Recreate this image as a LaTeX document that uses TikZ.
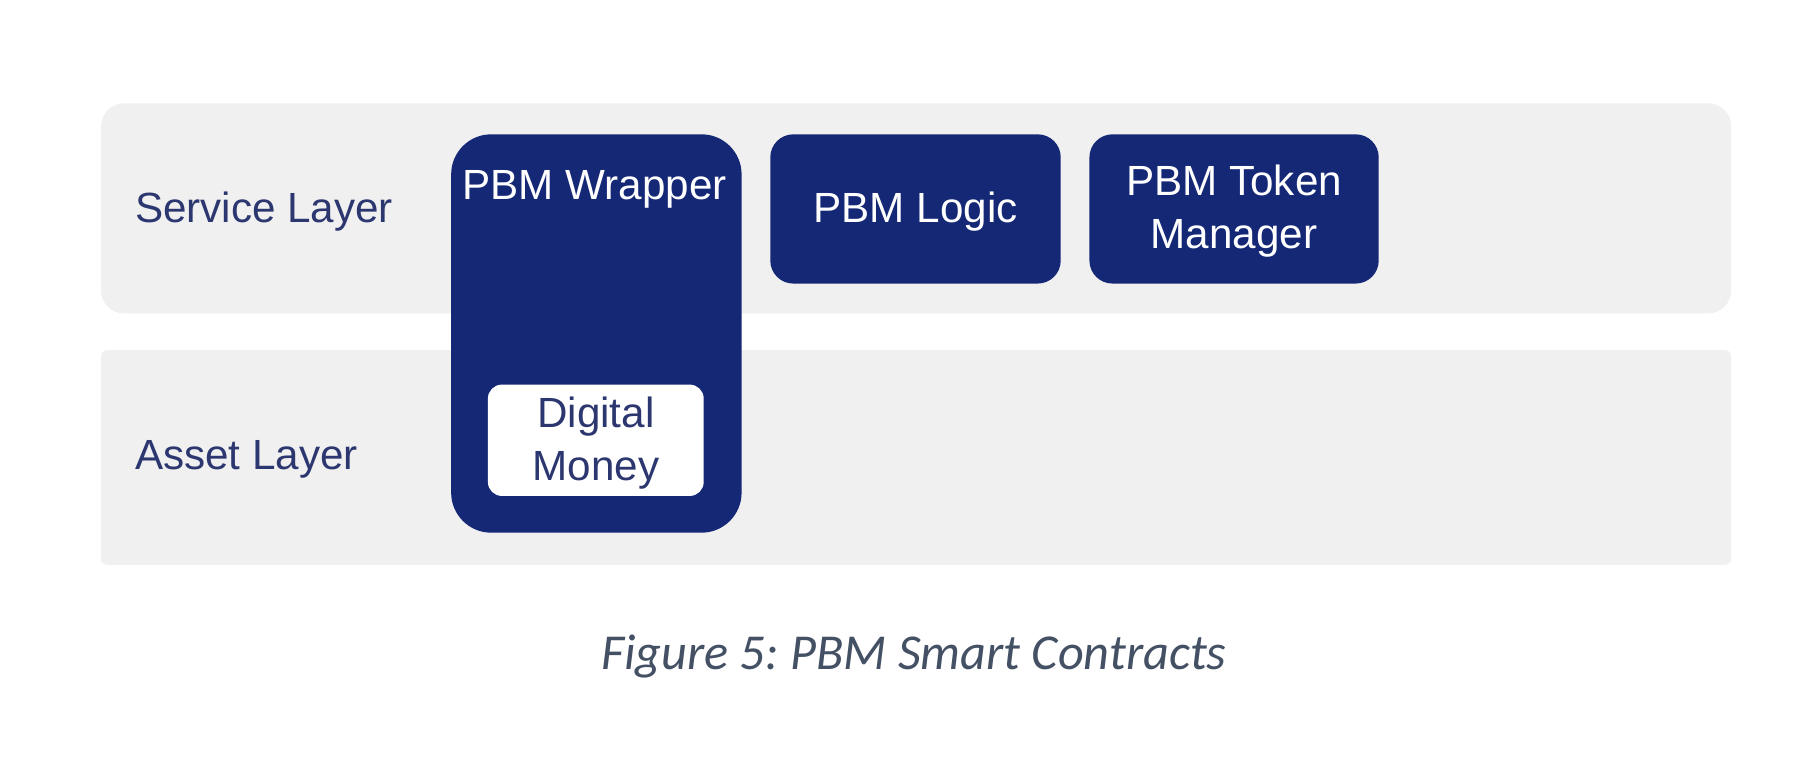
\documentclass[tikz,border=0pt]{standalone}
\usepackage{fontspec}
\setmainfont{Liberation Sans}
\newfontfamily\capfont{Carlito}
\definecolor{navy}{RGB}{21,40,118}
\definecolor{band}{RGB}{240,240,240}
\definecolor{lbl}{RGB}{44,55,112}
\definecolor{capc}{RGB}{68,80,100}
\def\u{0.01148cm}
\frenchspacing
\begin{document}
\begin{tikzpicture}[x=0.01148cm,y=-0.01148cm,
  bandbox/.style={fill=band,draw=none,inner sep=0pt},
  navybox/.style={fill=navy,draw=none,inner sep=0pt,rounded corners=0.23cm,text=white,align=center,font=\fontsize{12}{15}\selectfont},
  whitebox/.style={fill=white,draw=none,inner sep=0pt,rounded corners=0.14cm,text=lbl,align=center,font=\fontsize{12}{15}\selectfont},
  layerlbl/.style={text=lbl,anchor=west,inner sep=0pt,font=\fontsize{12}{15}\selectfont}]
\fill[white] (0,0) rectangle (1568,682);
\useasboundingbox (0,0) rectangle (1568,682);
\node[bandbox,rounded corners=0.23cm,minimum width=1420*\u,minimum height=183*\u] (service) at (798,181.5) {};
\node[bandbox,rounded corners=0.06cm,minimum width=1420*\u,minimum height=187*\u] (asset) at (798,398.5) {};
\node[layerlbl] (servicelbl) at (117,184) {Service Layer};
\node[layerlbl] (assetlbl) at (117,400) {Asset Layer};
\node[navybox,rounded corners=0.4cm,minimum width=253*\u,minimum height=347*\u] (wrapper) at (519.5,290.5) {};
\node[text=white,inner sep=0pt,font=\fontsize{12}{15}\selectfont] (wraptext) at (518,165) {PBM Wrapper};
\node[whitebox,minimum width=188*\u,minimum height=97*\u,text depth=0pt] (money) at (519,383.5) {};
\node[text=lbl,inner sep=0pt,align=center,font=\fontsize{12}{15}\selectfont] (moneytext) at (519,386) {Digital\\Money};
\node[navybox,minimum width=253*\u,minimum height=130*\u] (logic) at (797.5,182) {};
\node[text=white,inner sep=0pt,font=\fontsize{12}{15}\selectfont] (logictext) at (797.5,184) {PBM Logic};
\node[navybox,minimum width=252*\u,minimum height=130*\u] (token) at (1075,182) {};
\node[text=white,inner sep=0pt,align=center,font=\fontsize{12}{15}\selectfont] (tokentext) at (1075,184) {PBM Token\\Manager};
\node[text=capc,inner sep=0pt,font=\capfont\itshape\fontsize{14.3}{17}\selectfont] (caption) at (796,572) {Figure 5: PBM Smart Contracts};
\end{tikzpicture}
\end{document}
